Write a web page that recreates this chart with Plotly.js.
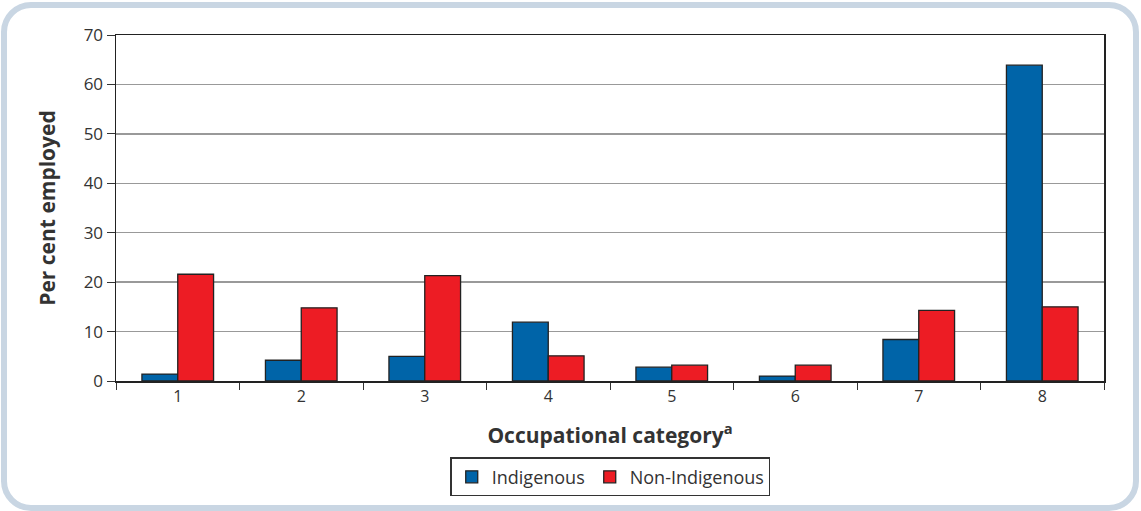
<!DOCTYPE html>
<html><head><meta charset="utf-8">
<script src="https://cdn.plot.ly/plotly-3.0.1.min.js"></script>
<style>
html,body{margin:0;padding:0;background:#fff;overflow:hidden;}
#frame{position:absolute;left:1px;top:2px;width:1138px;height:509px;box-sizing:border-box;border:6px solid #c9d6e3;border-radius:30px;}
#chart{position:absolute;left:0;top:0;width:1141px;height:511px;}
</style></head>
<body>
<div id="frame"></div>
<div id="chart"></div>
<script>
const categories = ["1","2","3","4","5","6","7","8"];
const indigenous = [1.4, 4.2, 5.0, 11.9, 2.8, 1.0, 8.4, 63.9];
const nonIndigenous = [21.6, 14.8, 21.3, 5.1, 3.2, 3.2, 14.3, 15.0];
const yTicks = [0,10,20,30,40,50,60,70];

const font = "Open Sans, sans-serif";
const data = [
  {type:"bar", name:"Indigenous", x:categories, y:indigenous,
   marker:{color:"#0064a8", line:{color:"#222", width:1.3}}},
  {type:"bar", name:"Non-Indigenous", x:categories, y:nonIndigenous,
   marker:{color:"#ed1c24", line:{color:"#222", width:1.3}}}
];
const layout = {
  width:1141, height:511,
  margin:{l:116, r:37, t:35, b:130},
  paper_bgcolor:"rgba(0,0,0,0)", plot_bgcolor:"#fff",
  barmode:"group", bargap:0.42, bargroupgap:0,
  font:{family:font, color:"#333", size:16},
  showlegend:true,
  legend:{orientation:"h", x:0.535, xanchor:"center", xref:"container", y:0.105, yanchor:"top", yref:"container",
    bordercolor:"#333", borderwidth:1.3, font:{size:18, color:"#333"}, bgcolor:"#fff",
    traceorder:"normal", itemwidth:30, tracegroupgap:0},
  xaxis:{type:"category", tickson:"boundaries", ticks:"outside", ticklen:7, tickcolor:"#333",
    showline:true, linecolor:"#222", linewidth:1.5, mirror:true, automargin:false,
    tickfont:{size:16, color:"#333"},
    title:{text:"<b>Occupational category<sup>a</sup></b>", font:{size:21, color:"#333"}, standoff:22}},
  yaxis:{range:[0,70], tickvals:yTicks, ticks:"outside", ticklen:8, tickcolor:"#333",
    showline:true, linecolor:"#222", linewidth:1.5, mirror:true, automargin:false,
    showgrid:true, gridcolor:"#999", gridwidth:1.3, zeroline:false,
    tickfont:{size:17, color:"#333"},
    title:{text:"<b>Per cent employed</b>", font:{size:21, color:"#333"}, standoff:22}}
};
Plotly.newPlot("chart", data, layout, {displayModeBar:false, staticPlot:true});
</script>
</body></html>
